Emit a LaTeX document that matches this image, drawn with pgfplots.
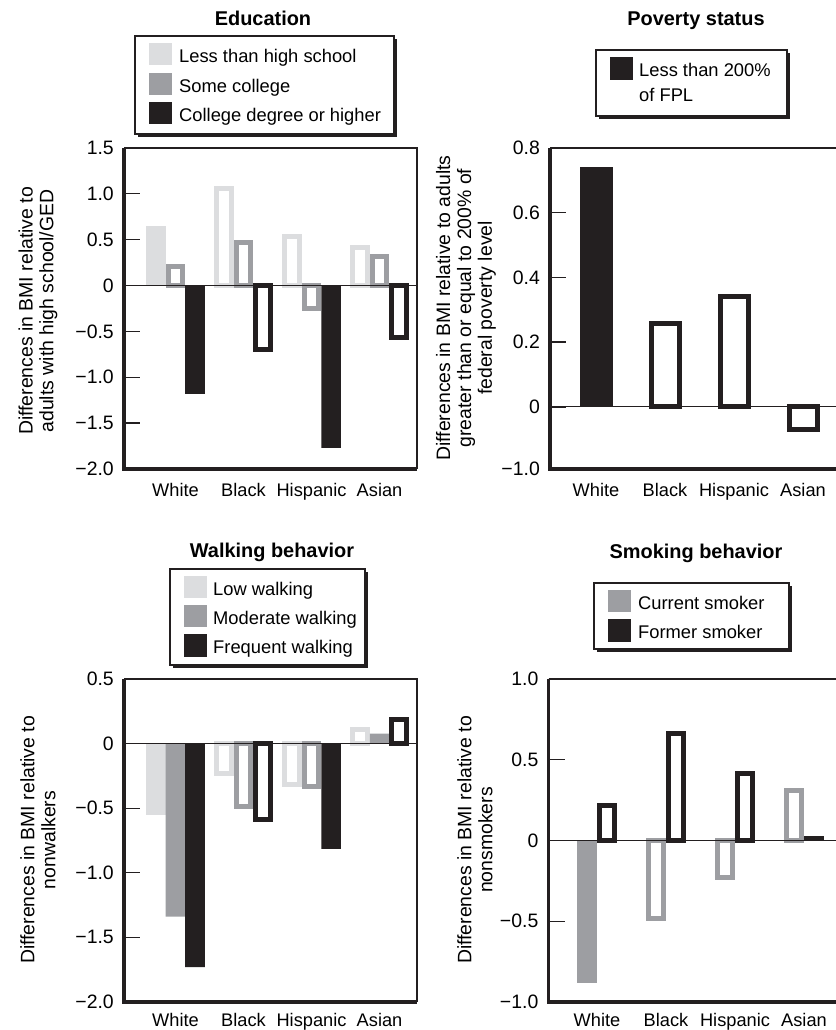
\documentclass[border=0pt]{standalone}
\usepackage{fontspec}
\setmainfont{Liberation Sans}
\usepackage{pgfplots}
\pgfplotsset{compat=1.18}
\definecolor{lg}{HTML}{DCDDDF}
\definecolor{mg}{HTML}{9D9EA2}
\definecolor{dk}{HTML}{231F20}
\newcommand\lfont{\fontsize{18.4}{21}\selectfont}
\newcommand\tfont{\bfseries\fontsize{20}{22}\selectfont}
\newcommand\yfont{\fontsize{19.5}{21}\selectfont}
\pgfplotsset{
  panel/.style={
    scale only axis, anchor=south west, clip=false,
    axis line style={draw=none},
    xtick={0,1,2,3}, xticklabels={White,Black,Hispanic,Asian},
    xtick style={draw=none},
    ytick pos=left, tick align=inside, major tick length=16bp,
    ytick style={line width=1.3bp, draw=dk},
    xticklabel style={font=\fontsize{18.3}{18}\selectfont, inner sep=0pt, text height=13bp, text depth=4bp},
    yticklabel style={font=\fontsize{19.5}{19.5}\selectfont, inner sep=0pt, xshift=-10bp},
  },
  F/.style n args={3}{ybar, fill=#1, draw=none, bar width=#2, bar shift=#3},
  H/.style n args={3}{ybar, fill=white, draw=#1, line width=5bp, bar width=#2, bar shift=#3},
}
\newcommand\panelframe{%
  \draw[dk, line width=1.3bp] (rel axis cs:0,1) -- (rel axis cs:1,1) -- (rel axis cs:1,0);
  \draw[dk, line width=1.2bp] (axis cs:\pgfkeysvalueof{/pgfplots/xmin},0) -- (axis cs:\pgfkeysvalueof{/pgfplots/xmax},0);
  \draw[dk, line width=3.5bp] (rel axis cs:0,1) -- (rel axis cs:0,0) -- (rel axis cs:1,0);
}
\begin{document}
\begin{tikzpicture}
\path[use as bounding box] (0,0) rectangle (836bp,1030bp);

% ---------------- Education ----------------
\begin{axis}[panel, at={(124bp,561bp)}, width=293bp, height=321bp,
  xmin=-0.757, xmax=3.551, ymin=-2, ymax=1.5,
  ytick={-2,-1.5,-1,-0.5,0,0.5,1,1.5},
  yticklabels={−2.0,−1.5,−1.0,−0.5,0,0.5,1.0,1.5},
  xticklabel style={yshift=-14.5bp}]
% Less than high school
\addplot[F={lg}{0.287}{-0.287}] coordinates {(0,0.65)};
\addplot[H={lg}{0.2135}{-0.287}] coordinates {(1,1.06) (2,0.53) (3,0.42)};
% Some college
\addplot[H={mg}{0.2135}{0}] coordinates {(0,0.21) (1,0.47) (2,-0.255) (3,0.32)};
% College degree or higher
\addplot[F={dk}{0.287}{0.287}] coordinates {(0,-1.18) (2,-1.77)};
\addplot[H={dk}{0.2135}{0.287}] coordinates {(1,-0.70) (3,-0.57)};
\panelframe
\end{axis}

% ---------------- Poverty ----------------
\begin{axis}[panel, at={(550bp,561bp)}, width=288bp, height=321bp,
  xmin=-0.6667, xmax=3.5072, ymin=-0.192, ymax=0.8,
  ytick={-0.192,0,0.2,0.4,0.6,0.8},
  yticklabels={−1.0,0,0.2,0.4,0.6,0.8},
  xticklabel style={yshift=-14.5bp}]
\addplot[F={dk}{0.478}{0}] coordinates {(0,0.74)};
\addplot[H={dk}{0.4056}{0}] coordinates {(1,0.258) (2,0.34) (3,-0.069)};
\panelframe
\end{axis}

% ---------------- Walking ----------------
\begin{axis}[panel, at={(124bp,28bp)}, width=293bp, height=323bp,
  xmin=-0.757, xmax=3.551, ymin=-2, ymax=0.5,
  ytick={-2,-1.5,-1,-0.5,0,0.5},
  yticklabels={−2.0,−1.5,−1.0,−0.5,0,0.5},
  xticklabel style={yshift=-11bp}]
% Low walking
\addplot[F={lg}{0.287}{-0.287}] coordinates {(0,-0.55)};
\addplot[H={lg}{0.2135}{-0.287}] coordinates {(1,-0.23) (2,-0.32) (3,0.11)};
% Moderate walking
\addplot[F={mg}{0.287}{0}] coordinates {(0,-1.34) (3,0.078)};
\addplot[H={mg}{0.2135}{0}] coordinates {(1,-0.49) (2,-0.33)};
% Frequent walking
\addplot[F={dk}{0.287}{0.287}] coordinates {(0,-1.73) (2,-0.815)};
\addplot[H={dk}{0.2135}{0.287}] coordinates {(1,-0.59) (3,0.19)};
\panelframe
\end{axis}

% ---------------- Smoking ----------------
\begin{axis}[panel, at={(548.5bp,28bp)}, width=289.5bp, height=323bp,
  xmin=-0.703, xmax=3.493, ymin=-1, ymax=1,
  ytick={-1,-0.5,0,0.5,1},
  yticklabels={−1.0,−0.5,0,0.5,1.0},
  xticklabel style={yshift=-11bp}]
% Current smoker
\addplot[F={mg}{0.29}{-0.145}] coordinates {(0,-0.88)};
\addplot[H={mg}{0.2175}{-0.145}] coordinates {(1,-0.48) (2,-0.227) (3,0.307)};
% Former smoker
\addplot[H={dk}{0.2175}{0.145}] coordinates {(0,0.218) (1,0.66) (2,0.414)};
\addplot[F={dk}{0.29}{0.145}] coordinates {(3,0.025)};
\panelframe
\end{axis}

% ---------------- titles, legends, y labels ----------------
\begin{scope}[yshift=1030bp, x=1bp, y=-1bp]
\tikzset{lt/.style={font=\lfont, anchor=base west, inner sep=0pt}}
% Education
\node[font=\tfont, anchor=base] at (263,26) {Education};
\fill[dk] (138,39) rectangle (397,137);
\draw[dk, line width=1.3bp, fill=white] (135,36) rectangle (394,134);
\fill[lg] (149,43) rectangle (172,65);
\fill[mg] (149,73) rectangle (172,95);
\fill[dk] (149,102) rectangle (172,124);
\node[lt] at (179,63) {Less than high school};
\node[lt] at (179,92.5) {Some college};
\node[lt] at (179,122) {College degree or higher};
\node[rotate=90, font=\yfont, align=center] at (38,311) {Differences in BMI relative to\\adults with high school/GED};
% Poverty
\node[font=\tfont, anchor=base] at (696,26) {Poverty status};
\fill[dk] (599,53) rectangle (790,119);
\draw[dk, line width=1.3bp, fill=white] (596,50) rectangle (787,116);
\fill[dk] (610,57) rectangle (633,80);
\node[lt] at (639,77) {Less than 200\%};
\node[lt] at (639,102) {of FPL};
\node[rotate=90, font=\yfont, align=center] at (466,308) {Differences in BMI relative to adults\\greater than or equal to 200\% of\\federal poverty level};
% Walking
\node[font=\tfont, anchor=base] at (272,558) {Walking behavior};
\fill[dk] (173,572) rectangle (368,668);
\draw[dk, line width=1.3bp, fill=white] (170,569) rectangle (365,665);
\fill[lg] (184,576) rectangle (207,598);
\fill[mg] (184,605) rectangle (207,627);
\fill[dk] (184,634) rectangle (207,657);
\node[lt] at (213,596) {Low walking};
\node[lt] at (213,625) {Moderate walking};
\node[lt] at (213,654) {Frequent walking};
\node[rotate=90, font=\yfont, align=center] at (38,840) {Differences in BMI relative to\\nonwalkers};
% Smoking
\node[font=\tfont, anchor=base] at (696,559) {Smoking behavior};
\fill[dk] (597,586) rectangle (792,652);
\draw[dk, line width=1.3bp, fill=white] (594,583) rectangle (789,649);
\fill[mg] (608,590) rectangle (631,612);
\fill[dk] (608,619) rectangle (631,642);
\node[lt] at (638,610) {Current smoker};
\node[lt] at (638,639) {Former smoker};
\node[rotate=90, font=\yfont, align=center] at (475,840) {Differences in BMI relative to\\nonsmokers};
\end{scope}
\end{tikzpicture}
\end{document}
